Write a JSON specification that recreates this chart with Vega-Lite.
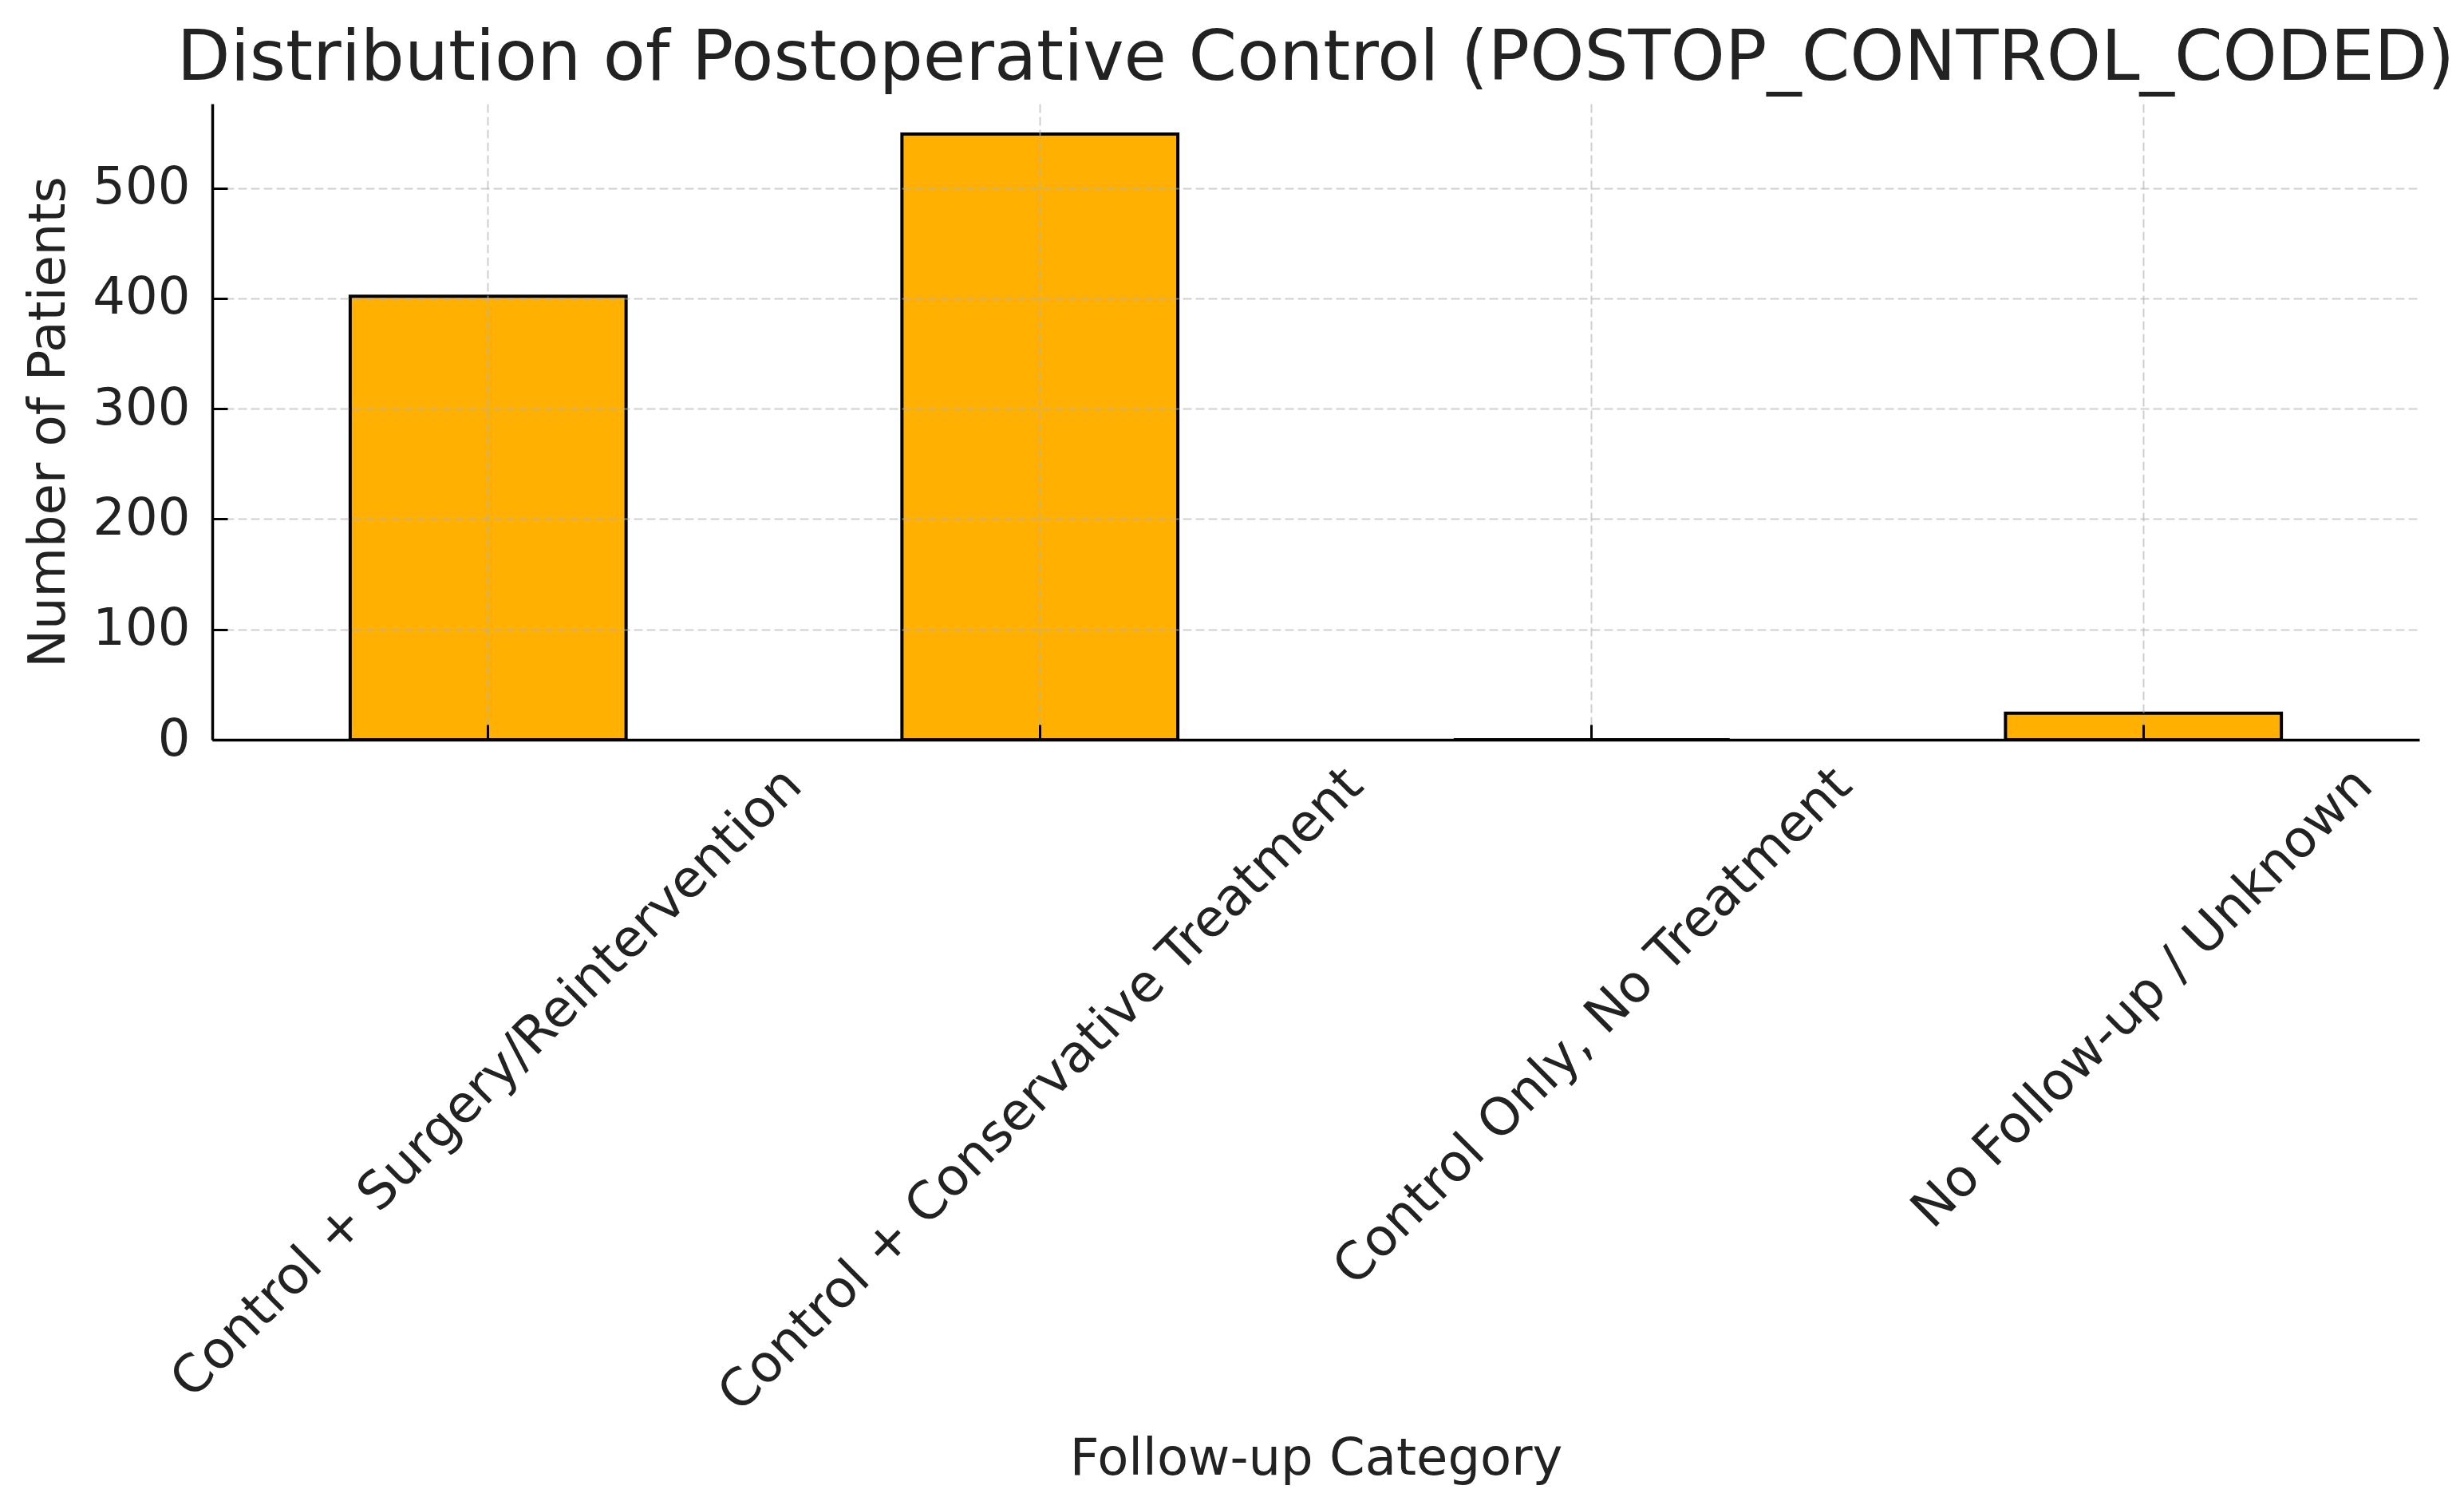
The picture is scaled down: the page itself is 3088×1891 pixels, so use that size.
{
  "$schema": "https://vega.github.io/schema/vega-lite/v6.json",
  "width": 2766,
  "height": 797,
  "autosize": {"type": "none"},
  "padding": {"left": 266, "top": 130, "right": 56, "bottom": 964},
  "background": "white",
  "config": {"view": {"stroke": null}, "font": "DejaVu Sans"},
  "title": {
    "text": "Distribution of Postoperative Control (POSTOP_CONTROL_CODED)",
    "fontSize": 86.8,
    "font": "DejaVu Sans",
    "fontWeight": "normal",
    "color": "#222222",
    "anchor": "middle",
    "frame": "group",
    "baseline": "alphabetic",
    "offset": 33,
    "dy": 90
  },
  "data": {
    "values": [
      {"category": "Control + Surgery/Reintervention", "patients": 402},
      {"category": "Control + Conservative Treatment", "patients": 549},
      {"category": "Control Only, No Treatment", "patients": 0},
      {"category": "No Follow-up / Unknown", "patients": 24}
    ]
  },
  "mark": {"type": "bar", "color": "#FFB000", "stroke": "black", "strokeWidth": 4},
  "encoding": {
    "x": {
      "field": "category",
      "type": "nominal",
      "sort": null,
      "scale": {"paddingInner": 0.5, "paddingOuter": 0.25},
      "axis": {
        "title": "Follow-up Category",
        "titleFontSize": 64,
        "titleFont": "DejaVu Sans",
        "titleFontWeight": "normal",
        "titleColor": "#222222",
        "titleBaseline": "alphabetic",
        "titleY": 920,
        "labelAngle": -45,
        "labelAlign": "right",
        "labelBaseline": "top",
        "labelFontSize": 65,
        "labelFont": "DejaVu Sans",
        "labelColor": "#222222",
        "labelPadding": 43,
        "labelLimit": 0,
        "labelOverlap": false,
        "labelOffset": {
          "condition": [
            {"test": "datum.value === 'Control + Surgery/Reintervention'", "value": 360},
            {"test": "datum.value === 'Control + Conservative Treatment'", "value": 372},
            {"test": "datum.value === 'Control Only, No Treatment'", "value": 293}
          ],
          "value": 254
        },
        "ticks": true,
        "tickSize": -19,
        "tickColor": "black",
        "tickWidth": 3,
        "domainColor": "black",
        "domainWidth": 3.5,
        "grid": true,
        "gridColor": "#b0b0b0",
        "gridOpacity": 0.6,
        "gridDash": [11, 5],
        "gridWidth": 2,
        "bandPosition": 0.5,
        "zindex": 1
      }
    },
    "y": {
      "field": "patients",
      "type": "quantitative",
      "scale": {"domain": [0, 576.45], "nice": false, "zero": true},
      "axis": {
        "title": "Number of Patients",
        "titleFontSize": 64,
        "titleFont": "DejaVu Sans",
        "titleFontWeight": "normal",
        "titleColor": "#222222",
        "titleBaseline": "alphabetic",
        "titleX": -186,
        "values": [0, 100, 200, 300, 400, 500],
        "labelFontSize": 64,
        "labelFont": "DejaVu Sans",
        "labelColor": "#222222",
        "labelPadding": 47,
        "labelFlush": false,
        "labelOverlap": false,
        "ticks": true,
        "tickSize": -19,
        "tickColor": "black",
        "tickWidth": 3,
        "domainColor": "black",
        "domainWidth": 3.5,
        "grid": true,
        "gridColor": "#b0b0b0",
        "gridOpacity": 0.6,
        "gridDash": [11, 5],
        "gridWidth": 2,
        "zindex": 1
      }
    }
  }
}
